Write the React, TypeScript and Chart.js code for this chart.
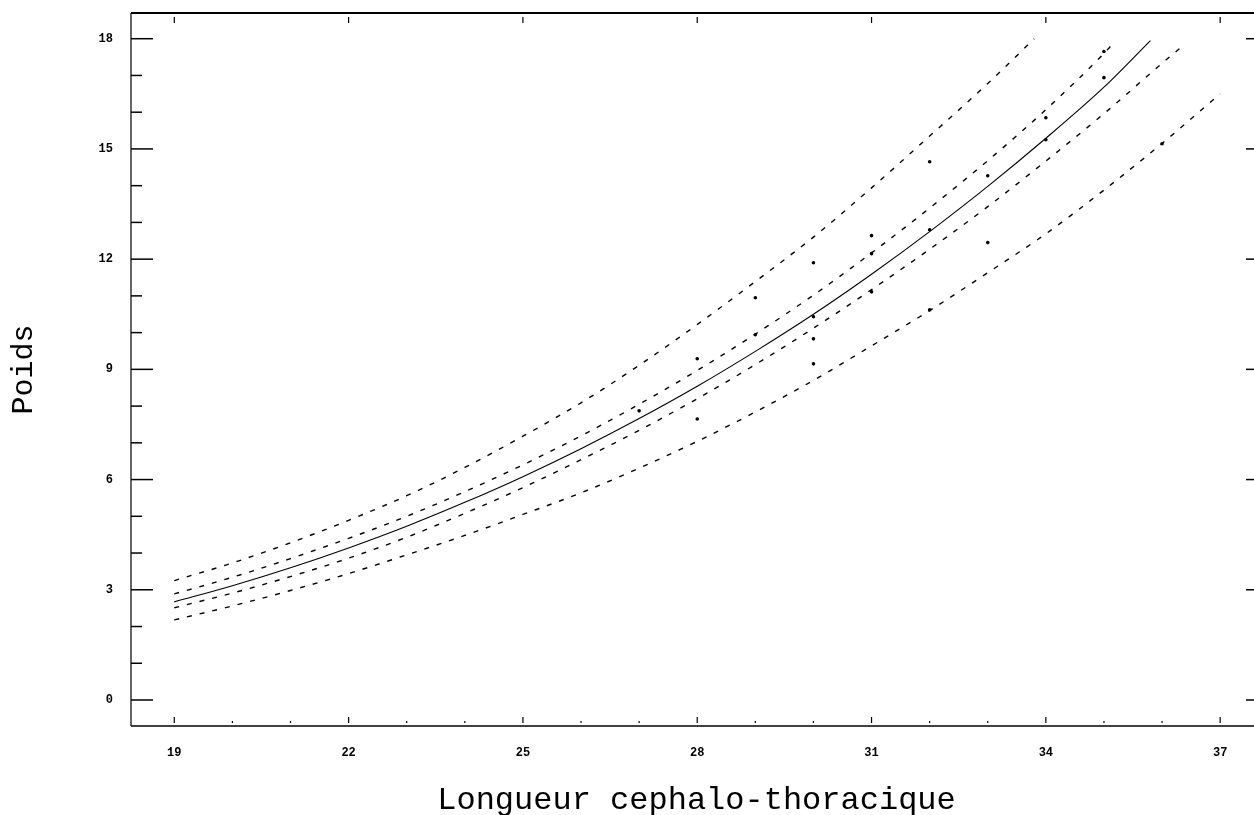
import React, { useEffect, useRef } from "react";
import { Chart, registerables } from "chart.js";

Chart.register(...registerables);

// Fitted curve (solid)
const fitLength = [19, 20, 21, 22, 23, 24, 25, 26, 27, 28, 29, 30, 31, 32, 33, 34, 35, 35.8];
const fitWeight = [2.67, 3.11, 3.6, 4.14, 4.73, 5.38, 6.08, 6.84, 7.66, 8.54, 9.49, 10.5, 11.59, 12.75, 13.98, 15.29, 16.68, 17.95];

// Outer upper band (dashed)
const upperOuterLength = [19, 20, 21, 22, 23, 24, 25, 26, 27, 28, 29, 30, 31, 32, 33, 33.8];
const upperOuterWeight = [3.25, 3.73, 4.28, 4.89, 5.56, 6.33, 7.18, 8.09, 9.11, 10.22, 11.39, 12.6, 13.94, 15.35, 16.78, 18.0];

// Inner upper band (dashed)
const upperInnerLength = [19, 20, 21, 22, 23, 24, 25, 26, 27, 28, 29, 30, 31, 32, 33, 34, 35, 35.2];
const upperInnerWeight = [2.89, 3.34, 3.85, 4.4, 5.0, 5.67, 6.4, 7.19, 8.05, 8.97, 9.96, 11.02, 12.17, 13.39, 14.68, 16.07, 17.6, 17.95];

// Inner lower band (dashed)
const lowerInnerLength = [19, 20, 21, 22, 23, 24, 25, 26, 27, 28, 29, 30, 31, 32, 33, 34, 35, 36, 36.4];
const lowerInnerWeight = [2.51, 2.91, 3.36, 3.86, 4.43, 5.08, 5.78, 6.54, 7.34, 8.2, 9.13, 10.12, 11.17, 12.27, 13.43, 14.67, 15.96, 17.33, 17.86];

// Outer lower band (dashed)
const lowerOuterLength = [19, 20, 21, 22, 23, 24, 25, 26, 27, 28, 29, 30, 31, 32, 33, 34, 35, 36, 37];
const lowerOuterWeight = [2.18, 2.56, 2.98, 3.44, 3.95, 4.48, 5.05, 5.64, 6.31, 7.04, 7.84, 8.7, 9.64, 10.6, 11.63, 12.69, 13.88, 15.15, 16.5];

// Observations (dots)
const obsLength = [27, 28, 28, 29, 29, 30, 30, 30, 30, 31, 31, 31, 32, 32, 32, 33, 33, 34, 34, 35, 35, 36];
const obsWeight = [7.87, 9.29, 7.65, 10.95, 9.94, 11.9, 10.43, 9.83, 9.15, 12.64, 12.15, 11.11, 14.65, 12.8, 10.62, 14.27, 12.45, 15.85, 15.25, 17.65, 16.94, 15.14];

const xTickValues = [19, 22, 25, 28, 31, 34, 37];
const yTickValues = [0, 3, 6, 9, 12, 15, 18];
const xMinorValues = [19, 20, 21, 22, 23, 24, 25, 26, 27, 28, 29, 30, 31, 32, 33, 34, 35, 36, 37];
const yMinorValues = [0, 1, 2, 3, 4, 5, 6, 7, 8, 9, 10, 11, 12, 13, 14, 15, 16, 17, 18];

const X_MIN = 18.255;
const X_MAX = 37.72;
const Y_MIN = -0.708;
const Y_MAX = 18.7;

const toPoints = (xs: number[], ys: number[]) => xs.map((x, i) => ({ x, y: ys[i] }));

const framePlugin = {
  id: "frameTicks",
  afterDraw(chart: any) {
    const { ctx, chartArea } = chart;
    const xs = chart.scales.x;
    const ys = chart.scales.y;
    const { left, right, top, bottom } = chartArea;
    ctx.save();
    ctx.strokeStyle = "#000";
    ctx.lineWidth = 2;
    ctx.beginPath();
    ctx.moveTo(left, top);
    ctx.lineTo(right, top);
    ctx.stroke();
    ctx.lineWidth = 1.5;
    ctx.beginPath();
    ctx.moveTo(left, bottom);
    ctx.lineTo(right, bottom);
    ctx.stroke();
    ctx.lineWidth = 1.2;
    ctx.beginPath();
    ctx.moveTo(left, top);
    ctx.lineTo(left, bottom);
    ctx.moveTo(right, top);
    ctx.lineTo(right, bottom);
    ctx.stroke();
    ctx.lineWidth = 1.5;
    yMinorValues.forEach((v) => {
      const py = ys.getPixelForValue(v);
      const major = yTickValues.includes(v);
      ctx.beginPath();
      ctx.moveTo(left, py);
      ctx.lineTo(left + (major ? 22 : 11), py);
      ctx.stroke();
      if (major) {
        ctx.beginPath();
        ctx.moveTo(right, py);
        ctx.lineTo(right - 16, py);
        ctx.stroke();
      }
    });
    ctx.lineWidth = 1.2;
    xMinorValues.forEach((v) => {
      const px = xs.getPixelForValue(v);
      const major = xTickValues.includes(v);
      ctx.beginPath();
      ctx.moveTo(px, bottom - 3);
      ctx.lineTo(px, bottom - (major ? 9 : 5));
      ctx.stroke();
      if (major) {
        ctx.beginPath();
        ctx.moveTo(px, top + 4);
        ctx.lineTo(px, top + 10);
        ctx.stroke();
      }
    });
    ctx.restore();
  },
};

export default function App() {
  const canvasRef = useRef<HTMLCanvasElement | null>(null);

  useEffect(() => {
    const canvas = canvasRef.current;
    if (!canvas) return;
    const dashed = {
      showLine: true,
      borderColor: "#000",
      borderWidth: 1.4,
      borderDash: [5, 8],
      pointRadius: 0,
      cubicInterpolationMode: "monotone",
      fill: false,
    };
    const chart = new Chart(canvas, {
      type: "scatter",
      data: {
        datasets: [
          { label: "Observations", data: toPoints(obsLength, obsWeight), pointRadius: 1.8, pointBackgroundColor: "#000", pointBorderWidth: 0, showLine: false } as any,
          { label: "Ajustement", data: toPoints(fitLength, fitWeight), showLine: true, borderColor: "#000", borderWidth: 1.1, pointRadius: 0, cubicInterpolationMode: "monotone" } as any,
          { label: "Limite sup. prediction", data: toPoints(upperOuterLength, upperOuterWeight), ...dashed } as any,
          { label: "Limite sup. confiance", data: toPoints(upperInnerLength, upperInnerWeight), ...dashed } as any,
          { label: "Limite inf. confiance", data: toPoints(lowerInnerLength, lowerInnerWeight), ...dashed } as any,
          { label: "Limite inf. prediction", data: toPoints(lowerOuterLength, lowerOuterWeight), ...dashed } as any,
        ],
      },
      options: {
        animation: false,
        responsive: false,
        devicePixelRatio: 1,
        layout: { padding: { top: 13, right: 8, left: 0, bottom: 0 } },
        plugins: { legend: { display: false }, tooltip: { enabled: false } },
        scales: {
          x: {
            type: "linear",
            position: "bottom",
            min: X_MIN,
            max: X_MAX,
            grid: { display: false, drawTicks: false },
            border: { display: false },
            afterBuildTicks: (scale: any) => {
              scale.ticks = xTickValues.map((v) => ({ value: v }));
            },
            afterFit: (scale: any) => {
              scale.height = 89;
              scale.paddingLeft = 0;
              scale.paddingRight = 0;
            },
            ticks: {
              color: "#000",
              padding: 20,
              font: { family: "Liberation Mono", size: 12, weight: "bold" },
              maxRotation: 0,
              autoSkip: false,
            },
            title: {
              display: true,
              text: "Longueur cephalo-thoracique",
              color: "#000",
              font: { family: "Liberation Mono", size: 32, lineHeight: 1 },
              padding: { top: 0, bottom: -2 },
            },
          },
          y: {
            type: "linear",
            position: "left",
            min: Y_MIN,
            max: Y_MAX,
            grid: { display: false, drawTicks: false },
            border: { display: false },
            afterBuildTicks: (scale: any) => {
              scale.ticks = yTickValues.map((v) => ({ value: v }));
            },
            afterFit: (scale: any) => {
              scale.width = 131;
              scale.paddingTop = 0;
              scale.paddingBottom = 0;
            },
            ticks: {
              color: "#000",
              padding: 18,
              font: { family: "Liberation Mono", size: 12, weight: "bold" },
              autoSkip: false,
            },
            title: {
              display: true,
              text: "Poids",
              color: "#000",
              font: { family: "Liberation Mono", size: 30, lineHeight: 1 },
              padding: { top: 9, bottom: 0 },
            },
          },
        },
      } as any,
      plugins: [framePlugin],
    });
    return () => chart.destroy();
  }, []);

  return (
    <div
      style={{
        position: "fixed",
        left: 0,
        top: 0,
        width: 1254,
        height: 815,
        overflow: "hidden",
        background: "#fff",
      }}
    >
      <canvas ref={canvasRef} width={1270} height={815} style={{ display: "block", width: 1270, height: 815 }} />
    </div>
  );
}
